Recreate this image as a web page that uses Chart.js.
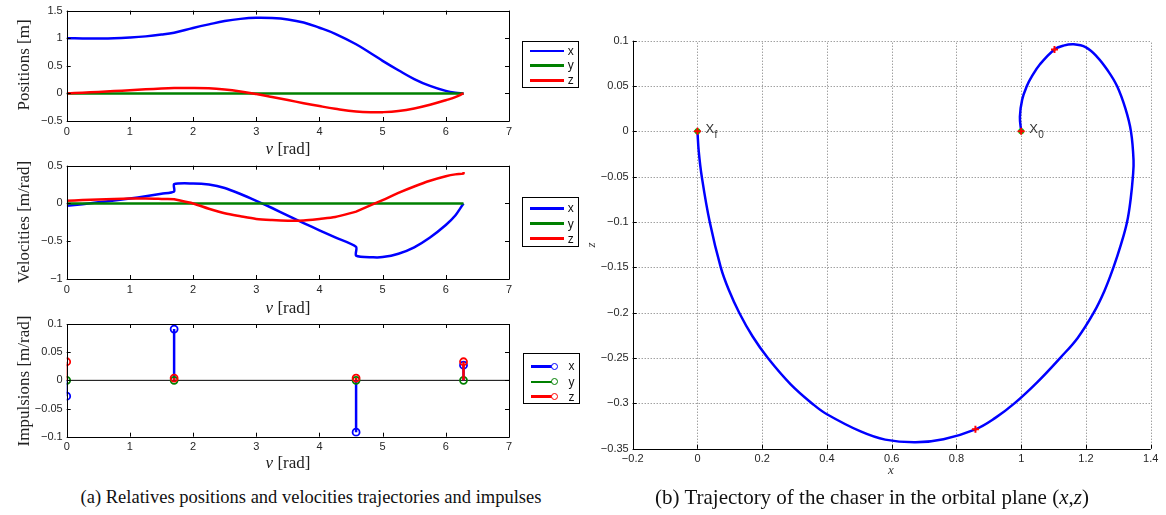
<!DOCTYPE html>
<html>
<head>
<meta charset="utf-8">
<script src="https://cdn.jsdelivr.net/npm/chart.js@4.4.0/dist/chart.umd.min.js"></script>
<style>
  body { margin: 0; background: #fff; }
  #page { position: relative; width: 1166px; height: 515px; overflow: hidden; }
  canvas { position: absolute; }
  .lbl {
    position: absolute; white-space: nowrap; color: #222;
    font-family: "Liberation Serif", "Times New Roman", serif; font-size: 17px;
    transform: translate(-50%, -50%);
  }
  .lbl.rot { transform: translate(-50%, -50%) rotate(-90deg); }
  .lbl.small { font-size: 13px; font-style: italic; color: #333; }
  .lbl.cap { color: #111; }
  .legend { position: absolute; border: 1px solid #000; background: #fff; box-sizing: border-box; }
  .legend .ln { position: absolute; height: 2.5px; }
  .legend .mk { position: absolute; width: 7px; height: 7px; border-radius: 50%; border: 1.6px solid; box-sizing: border-box; background: #fff; }
  .legend .tx { position: absolute; font: 12px "Liberation Sans", Arial, sans-serif; color: #111; transform: translateY(-50%); }
</style>
</head>
<body>
<div id="page">
  <canvas id="posChart" width="520" height="150" style="left:0;top:0"></canvas>
  <canvas id="velChart" width="520" height="150" style="left:0;top:150px"></canvas>
  <canvas id="impChart" width="520" height="155" style="left:0;top:305px"></canvas>
  <canvas id="trajChart" width="586" height="450" style="left:580px;top:20px"></canvas>

  <div class="lbl rot" style="left:24px;top:65px">Positions [m]</div>
  <div class="lbl" style="left:288px;top:149px"><i>ν</i> [rad]</div>
  <div class="lbl rot" style="left:24px;top:222px">Velocities [m/rad]</div>
  <div class="lbl" style="left:288px;top:308px"><i>ν</i> [rad]</div>
  <div class="lbl rot" style="left:24px;top:381px">Impulsions [m/rad]</div>
  <div class="lbl" style="left:288px;top:463px"><i>ν</i> [rad]</div>
  <div class="lbl rot small" style="left:591px;top:245px">z</div>
  <div class="lbl small" style="left:891px;top:470px">x</div>

  <div class="lbl cap" style="left:311px;top:497px;font-size:18.5px">(a) Relatives positions and velocities trajectories and impulses</div>
  <div class="lbl cap" style="left:872px;top:497px;font-size:21px">(b) Trajectory of the chaser in the orbital plane (<i>x</i>,<i>z</i>)</div>
</div>

<script>
// series names and colours
const seriesNames = ['x', 'y', 'z'];
const seriesColors = ['#0000ff', '#008000', '#ff0000'];

// relative positions vs true anomaly
const posNu = [0, 0.25, 0.5, 0.75, 1.0, 1.25, 1.5, 1.7, 2.0, 2.25, 2.5, 2.75, 3.0, 3.25, 3.5, 3.75, 4.0, 4.25, 4.58, 4.85, 5.0, 5.25, 5.5, 5.75, 6.0, 6.15, 6.28];
const posX = [1.0, 0.995, 0.994, 0.998, 1.012, 1.033, 1.065, 1.10, 1.185, 1.25, 1.31, 1.35, 1.37, 1.365, 1.34, 1.285, 1.19, 1.08, 0.89, 0.70, 0.59, 0.42, 0.26, 0.135, 0.045, 0.012, 0];
const posY = [0, 0, 0, 0, 0, 0, 0, 0, 0, 0, 0, 0, 0, 0, 0, 0, 0, 0, 0, 0, 0, 0, 0, 0, 0, 0, 0];
const posZ = [0, 0.012, 0.026, 0.042, 0.058, 0.073, 0.088, 0.096, 0.1, 0.094, 0.071, 0.035, -0.012, -0.065, -0.12, -0.177, -0.23, -0.278, -0.328, -0.343, -0.34, -0.317, -0.272, -0.206, -0.123, -0.067, 0];

// relative velocities (jumps at the impulses)
const velNu = [0, 0.25, 0.5, 0.75, 1.0, 1.25, 1.5, 1.7, 1.7, 2.0, 2.25, 2.5, 2.75, 3.0, 3.25, 3.5, 3.75, 4.0, 4.25, 4.58, 4.58, 4.85, 5.0, 5.25, 5.5, 5.75, 6.0, 6.15, 6.28, 6.28];
const velX = [-0.03, -0.01, 0.015, 0.04, 0.065, 0.095, 0.13, 0.16, 0.255, 0.265, 0.25, 0.205, 0.125, 0.035, -0.06, -0.16, -0.26, -0.355, -0.45, -0.575, -0.69, -0.713, -0.71, -0.665, -0.58, -0.45, -0.285, -0.16, 0, 0];
const velY = [0, 0, 0, 0, 0, 0, 0, 0, 0, 0, 0, 0, 0, 0, 0, 0, 0, 0, 0, 0, 0, 0, 0, 0, 0, 0, 0, 0, 0, 0];
const velZ = [0.035, 0.045, 0.052, 0.06, 0.065, 0.065, 0.06, 0.055, 0.055, 0.0, -0.07, -0.13, -0.17, -0.205, -0.22, -0.228, -0.225, -0.205, -0.18, -0.108, -0.108, -0.01, 0.045, 0.14, 0.225, 0.3, 0.36, 0.385, 0.395, 0.415];

// impulses
const impNu = [0, 1.7, 4.58, 6.28];
const impX = [-0.028, 0.091, -0.092, 0.027];
const impY = [0, 0, 0, 0];
const impZ = [0.033, 0.004, 0.004, 0.033];

// trajectory in the orbital plane, from X0 to Xf
const trajX = [1.000, 0.996, 1.003, 1.0175, 1.032, 1.058, 1.1028, 1.130, 1.162, 1.200, 1.235, 1.267, 1.296, 1.322, 1.339, 1.347, 1.345, 1.338, 1.327, 1.308, 1.285, 1.257, 1.224, 1.175, 1.120, 1.050, 0.979, 0.920, 0.8586, 0.760, 0.674, 0.580, 0.504, 0.400, 0.359, 0.288, 0.2175, 0.170, 0.129, 0.097, 0.072, 0.038, 0.0134, 0.004, 0.000];
const trajZ = [0.000, 0.016, 0.035, 0.050, 0.060, 0.074, 0.0904, 0.0945, 0.096, 0.0926, 0.082, 0.0673, 0.050, 0.025, 0.000, -0.032, -0.050, -0.075, -0.100, -0.125, -0.150, -0.176, -0.200, -0.2275, -0.250, -0.2765, -0.300, -0.316, -0.3286, -0.3395, -0.3429, -0.340, -0.331, -0.312, -0.3015, -0.279, -0.250, -0.226, -0.200, -0.175, -0.150, -0.100, -0.050, -0.022, 0.000];
const burnX = [1.1028, 0.8586];
const burnZ = [0.0904, -0.3286];
const endX = [1, 0];
const endZ = [0, 0];
const endSub = ['0', 'f'];

Chart.defaults.font.family = '"Liberation Sans", Arial, sans-serif';
Chart.defaults.font.size = 11;
Chart.defaults.color = '#262626';

const fmt = v => String(Math.round(v * 1000) / 1000).replace('-', '\u2212');
const pts = (xs, ys) => xs.map((x, i) => ({ x: x, y: ys[i] }));

// stems: base point, tip, gap
function stemPoints(nu, v) {
  const out = [];
  nu.forEach((n, i) => { out.push({ x: n, y: 0 }, { x: n, y: v[i] }, { x: n, y: null }); });
  return out;
}

// MATLAB style axes: optional dotted grid, box, inward ticks
const framePlugin = {
  id: 'frame',
  beforeDatasetsDraw(chart, args, opts) {
    if (!opts.grid) return;
    const { ctx, chartArea: a, scales } = chart;
    ctx.save();
    ctx.strokeStyle = '#777';
    ctx.lineWidth = 1;
    ctx.setLineDash([1, 2]);
    ctx.beginPath();
    scales.x.ticks.forEach(t => {
      const p = Math.round(scales.x.getPixelForValue(t.value)) + 0.5;
      ctx.moveTo(p, a.bottom); ctx.lineTo(p, a.top);
    });
    scales.y.ticks.forEach(t => {
      const p = Math.round(scales.y.getPixelForValue(t.value)) + 0.5;
      ctx.moveTo(a.left, p); ctx.lineTo(a.right, p);
    });
    ctx.stroke();
    ctx.restore();
  },
  afterDatasetsDraw(chart, args, opts) {
    const { ctx, chartArea: a, scales } = chart;
    const sx = scales.x, sy = scales.y;
    ctx.save();
    ctx.strokeStyle = '#000';
    ctx.lineWidth = 1;
    ctx.beginPath();
    if (opts.box) {
      ctx.rect(Math.round(a.left) + 0.5, Math.round(a.top) + 0.5, Math.round(a.right - a.left), Math.round(a.bottom - a.top));
    } else {
      ctx.moveTo(Math.round(a.left) + 0.5, a.top);
      ctx.lineTo(Math.round(a.left) + 0.5, Math.round(a.bottom) + 0.5);
      ctx.lineTo(a.right, Math.round(a.bottom) + 0.5);
    }
    sx.ticks.forEach(t => {
      const p = Math.round(sx.getPixelForValue(t.value)) + 0.5;
      ctx.moveTo(p, a.bottom); ctx.lineTo(p, a.bottom - 4);
      if (opts.box) { ctx.moveTo(p, a.top); ctx.lineTo(p, a.top + 4); }
    });
    sy.ticks.forEach(t => {
      const p = Math.round(sy.getPixelForValue(t.value)) + 0.5;
      ctx.moveTo(a.left, p); ctx.lineTo(a.left + 4, p);
      if (opts.box) { ctx.moveTo(a.right, p); ctx.lineTo(a.right - 4, p); }
    });
    ctx.stroke();
    ctx.restore();
  }
};

function leftChart(id, datasets, yMin, yMax, yStep, padTop, xHeight) {
  return new Chart(document.getElementById(id), {
    type: 'scatter',
    data: { datasets: datasets },
    options: {
      responsive: false, animation: false, events: [],
      layout: { padding: { left: 0, right: 11, top: padTop, bottom: 0 } },
      plugins: { legend: { display: false }, tooltip: { enabled: false }, frame: { box: true } },
      scales: {
        x: {
          type: 'linear', min: 0, max: 7,
          ticks: { stepSize: 1, padding: 4, callback: fmt, maxRotation: 0, autoSkip: false },
          grid: { display: false, drawTicks: false }, border: { display: false },
          afterFit: s => { s.height = xHeight; }
        },
        y: {
          type: 'linear', min: yMin, max: yMax,
          ticks: { stepSize: yStep, padding: 4, callback: fmt, autoSkip: false },
          grid: { display: false, drawTicks: false }, border: { display: false },
          afterFit: s => { s.width = 66.7; }
        }
      }
    },
    plugins: [framePlugin]
  });
}

function lineSet(nu, vals, i, tension) {
  return { data: pts(nu, vals), showLine: true, borderColor: seriesColors[i], borderWidth: 2.5, pointRadius: 0, tension: tension };
}

// z drawn on top, so listed first
leftChart('posChart', [lineSet(posNu, posZ, 2, 0.4), lineSet(posNu, posY, 1, 0), lineSet(posNu, posX, 0, 0.4)], -0.5, 1.5, 0.5, 8.5, 29);
leftChart('velChart', [lineSet(velNu, velZ, 2, 0.3), lineSet(velNu, velY, 1, 0), lineSet(velNu, velX, 0, 0.25)], -1, 0.5, 0.5, 15.7, 21);

function stemSet(vals, i) {
  return {
    data: stemPoints(impNu, vals), showLine: true, borderColor: seriesColors[i], borderWidth: 2.5,
    pointRadius: c => (c.dataIndex % 3 === 1 ? 3.5 : 0), pointBorderWidth: 1.8,
    pointBorderColor: seriesColors[i], pointBackgroundColor: 'rgba(255,255,255,0)'
  };
}
leftChart('impChart', [
  stemSet(impZ, 2), stemSet(impY, 1), stemSet(impX, 0),
  { data: [{ x: 0, y: 0 }, { x: 7, y: 0 }], showLine: true, borderColor: '#000', borderWidth: 1, pointRadius: 0 }
], -0.1, 0.1, 0.05, 19, 23.3);

// X0 / Xf labels next to the end points
const endLabels = {
  id: 'endLabels',
  afterDatasetsDraw(chart) {
    const { ctx, scales } = chart;
    ctx.save();
    ctx.fillStyle = '#333';
    ctx.textBaseline = 'middle';
    endX.forEach((v, i) => {
      const px = scales.x.getPixelForValue(v) + 8;
      const py = scales.y.getPixelForValue(endZ[i]) - 2;
      ctx.font = '13px "Liberation Sans", Arial, sans-serif';
      ctx.fillText('X', px, py);
      const w = ctx.measureText('X').width;
      ctx.font = '10px "Liberation Sans", Arial, sans-serif';
      ctx.fillText(endSub[i], px + w + 0.5, py + 6);
    });
    ctx.restore();
  }
};

new Chart(document.getElementById('trajChart'), {
  type: 'scatter',
  data: {
    datasets: [
      { data: pts(endX, endZ), pointStyle: 'cross', pointRadius: 3.5, pointBorderWidth: 2, pointBorderColor: '#ff0000' },
      { data: pts(endX, endZ), pointStyle: 'circle', pointRadius: 3, pointBorderWidth: 0, pointBackgroundColor: '#00c000' },
      { data: pts(burnX, burnZ), pointStyle: 'cross', pointRadius: 3.5, pointBorderWidth: 2, pointBorderColor: '#ff0000' },
      { data: pts(trajX, trajZ), showLine: true, borderColor: '#0000ff', borderWidth: 2.5, pointRadius: 0, tension: 0.4 }
    ]
  },
  options: {
    responsive: false, animation: false, events: [],
    layout: { padding: { left: 0, right: 15.3, top: 20.7, bottom: 0 } },
    plugins: { legend: { display: false }, tooltip: { enabled: false }, frame: { box: false, grid: true } },
    scales: {
      x: {
        type: 'linear', min: -0.2, max: 1.4,
        ticks: { stepSize: 0.2, padding: 4, callback: fmt, maxRotation: 0, autoSkip: false },
        grid: { display: false, drawTicks: false }, border: { display: false },
        afterFit: s => { s.height = 21.3; }
      },
      y: {
        type: 'linear', min: -0.35, max: 0.1,
        ticks: { stepSize: 0.05, padding: 4, callback: fmt, autoSkip: false },
        grid: { display: false, drawTicks: false }, border: { display: false },
        afterFit: s => { s.width = 52.7; }
      }
    }
  },
  plugins: [framePlugin, endLabels]
});

// legends
function makeLegend(left, top, height, rows, stems) {
  const box = document.createElement('div');
  box.className = 'legend';
  box.style.left = left + 'px';
  box.style.top = top + 'px';
  box.style.width = '57.5px';
  box.style.height = height + 'px';
  seriesNames.forEach((name, i) => {
    const y = rows[i];
    const ln = document.createElement('div');
    ln.className = 'ln';
    ln.style.left = '7px';
    ln.style.width = (stems ? 25 : 34) + 'px';
    ln.style.top = (y - 1.25) + 'px';
    ln.style.background = seriesColors[i];
    box.appendChild(ln);
    if (stems) {
      const mk = document.createElement('div');
      mk.className = 'mk';
      mk.style.left = (31 - 3.5) + 'px';
      mk.style.top = (y - 3.5) + 'px';
      mk.style.borderColor = seriesColors[i];
      box.appendChild(mk);
    }
    const tx = document.createElement('div');
    tx.className = 'tx';
    tx.style.left = '45px';
    tx.style.top = y + 'px';
    tx.textContent = name;
    box.appendChild(tx);
  });
  document.getElementById('page').appendChild(box);
}
makeLegend(521.7, 40.7, 47.6, [9.3, 23.8, 38.8], false);
makeLegend(521.7, 196.7, 50, [10.6, 26, 41], false);
makeLegend(522.5, 352.7, 51.5, [12.8, 28.3, 43], true);
</script>
</body>
</html>
